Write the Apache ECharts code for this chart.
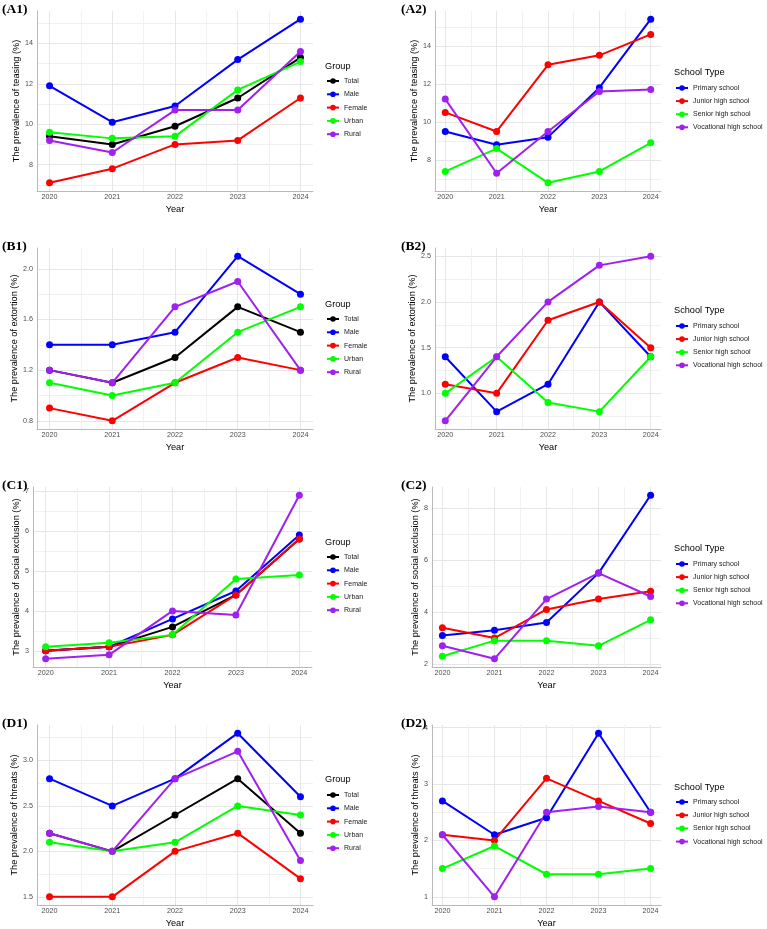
<!DOCTYPE html>
<html>
<head>
<meta charset="utf-8">
<script src="https://cdn.jsdelivr.net/npm/echarts@6/dist/echarts.min.js"></script>
<style>
html,body{margin:0;padding:0;background:#fff;}
#main{width:767px;height:929px;}
</style>
</head>
<body>
<div id="main"></div>
<script>
// x轴年份
var years = [2020, 2021, 2022, 2023, 2024];
var groupNames = ['Total', 'Male', 'Female', 'Urban', 'Rural'];
var schoolNames = ['Primary school', 'Junior high school', 'Senior high school', 'Vocational high school'];

// teasing
var teasingGroup = [
    [9.4, 9.0, 9.9, 11.3, 13.3],
    [11.9, 10.1, 10.9, 13.2, 15.2],
    [7.1, 7.8, 9.0, 9.2, 11.3],
    [9.6, 9.3, 9.4, 11.7, 13.1],
    [9.2, 8.6, 10.7, 10.7, 13.6]
];
var teasingSchool = [
    [9.5, 8.8, 9.2, 11.8, 15.4],
    [10.5, 9.5, 13.0, 13.5, 14.6],
    [7.4, 8.6, 6.8, 7.4, 8.9],
    [11.2, 7.3, 9.5, 11.6, 11.7]
];
// extortion
var extortionGroup = [
    [1.2, 1.1, 1.3, 1.7, 1.5],
    [1.4, 1.4, 1.5, 2.1, 1.8],
    [0.9, 0.8, 1.1, 1.3, 1.2],
    [1.1, 1.0, 1.1, 1.5, 1.7],
    [1.2, 1.1, 1.7, 1.9, 1.2]
];
var extortionSchool = [
    [1.4, 0.8, 1.1, 2.0, 1.4],
    [1.1, 1.0, 1.8, 2.0, 1.5],
    [1.0, 1.4, 0.9, 0.8, 1.4],
    [0.7, 1.4, 2.0, 2.4, 2.5]
];
// social exclusion
var exclusionGroup = [
    [3.0, 3.1, 3.6, 4.4, 5.8],
    [3.0, 3.1, 3.8, 4.5, 5.9],
    [3.0, 3.1, 3.4, 4.4, 5.8],
    [3.1, 3.2, 3.4, 4.8, 4.9],
    [2.8, 2.9, 4.0, 3.9, 6.9]
];
var exclusionSchool = [
    [3.1, 3.3, 3.6, 5.5, 8.5],
    [3.4, 3.0, 4.1, 4.5, 4.8],
    [2.3, 2.9, 2.9, 2.7, 3.7],
    [2.7, 2.2, 4.5, 5.5, 4.6]
];
// threats
var threatsGroup = [
    [2.2, 2.0, 2.4, 2.8, 2.2],
    [2.8, 2.5, 2.8, 3.3, 2.6],
    [1.5, 1.5, 2.0, 2.2, 1.7],
    [2.1, 2.0, 2.1, 2.5, 2.4],
    [2.2, 2.0, 2.8, 3.1, 1.9]
];
var threatsSchool = [
    [2.7, 2.1, 2.4, 3.9, 2.5],
    [2.1, 2.0, 3.1, 2.7, 2.3],
    [1.5, 1.9, 1.4, 1.4, 1.5],
    [2.1, 1.0, 2.5, 2.6, 2.5]
];

// y轴刻度
var teasingTicks = ['8', '10', '12', '14'];
var teasingMinor = [7, 9, 11, 13, 15];
var extortionGroupTicks = ['0.8', '1.2', '1.6', '2.0'];
var extortionGroupMinor = [1.0, 1.4, 1.8];
var extortionSchoolTicks = ['1.0', '1.5', '2.0', '2.5'];
var extortionSchoolMinor = [0.75, 1.25, 1.75, 2.25];
var exclusionGroupTicks = ['3', '4', '5', '6', '7'];
var exclusionGroupMinor = [3.5, 4.5, 5.5, 6.5];
var exclusionSchoolTicks = ['2', '4', '6', '8'];
var exclusionSchoolMinor = [3, 5, 7];
var threatsGroupTicks = ['1.5', '2.0', '2.5', '3.0'];
var threatsGroupMinor = [1.75, 2.25, 2.75, 3.25];
var threatsSchoolTicks = ['1', '2', '3', '4'];
var threatsSchoolMinor = [1.5, 2.5, 3.5];
var yearMinor = [2020.5, 2021.5, 2022.5, 2023.5];

var groupColors = ['#000000', '#0000ff', '#ff0000', '#00ff00', '#a020f0'];
var schoolColors = ['#0000ff', '#ff0000', '#00ff00', '#a020f0'];

var FONT = 'Liberation Sans, Arial, sans-serif';

//面板配置
var panels = [
    {tag: '(A1)', data: teasingGroup, names: groupNames, colors: groupColors, legendTitle: 'Group',
     ytitle: 'The prevalence of teasing (%)', ticks: teasingTicks, minor: teasingMinor,
     left: 37, top: 11, width: 276, height: 180, nameGap: 10, lx: 325, ltY: 66, liY: 81, gap: 13.3},
    {tag: '(A2)', data: teasingSchool, names: schoolNames, colors: schoolColors, legendTitle: 'School Type',
     ytitle: 'The prevalence of teasing (%)', ticks: teasingTicks, minor: teasingMinor,
     left: 435, top: 11, width: 226, height: 180, nameGap: 11, lx: 674, ltY: 72, liY: 88, gap: 13.1},
    {tag: '(B1)', data: extortionGroup, names: groupNames, colors: groupColors, legendTitle: 'Group',
     ytitle: 'The prevalence of extortion (%)', ticks: extortionGroupTicks, minor: extortionGroupMinor,
     left: 37, top: 248, width: 276, height: 181, nameGap: 11, lx: 325, ltY: 304, liY: 319, gap: 13.3},
    {tag: '(B2)', data: extortionSchool, names: schoolNames, colors: schoolColors, legendTitle: 'School Type',
     ytitle: 'The prevalence of extortion (%)', ticks: extortionSchoolTicks, minor: extortionSchoolMinor,
     left: 435, top: 248, width: 226, height: 181, nameGap: 11, lx: 674, ltY: 310, liY: 326, gap: 13.1},
    {tag: '(C1)', data: exclusionGroup, names: groupNames, colors: groupColors, legendTitle: 'Group',
     ytitle: 'The prevalence of social exclusion (%)', ticks: exclusionGroupTicks, minor: exclusionGroupMinor,
     left: 33, top: 487, width: 279, height: 180, nameGap: 8, lx: 325, ltY: 542, liY: 557, gap: 13.3},
    {tag: '(C2)', data: exclusionSchool, names: schoolNames, colors: schoolColors, legendTitle: 'School Type',
     ytitle: 'The prevalence of social exclusion (%)', ticks: exclusionSchoolTicks, minor: exclusionSchoolMinor,
     left: 432, top: 487, width: 229, height: 180, nameGap: 7, lx: 674, ltY: 548, liY: 564, gap: 13.1},
    {tag: '(D1)', data: threatsGroup, names: groupNames, colors: groupColors, legendTitle: 'Group',
     ytitle: 'The prevalence of threats (%)', ticks: threatsGroupTicks, minor: threatsGroupMinor,
     left: 37, top: 725, width: 276, height: 180, nameGap: 11, lx: 325, ltY: 779, liY: 795, gap: 13.3},
    {tag: '(D2)', data: threatsSchool, names: schoolNames, colors: schoolColors, legendTitle: 'School Type',
     ytitle: 'The prevalence of threats (%)', ticks: threatsSchoolTicks, minor: threatsSchoolMinor,
     left: 432, top: 725, width: 229, height: 180, nameGap: 8, lx: 674, ltY: 787, liY: 802, gap: 13.2}
];

function labelFormatter(ticks) {
    return function (v) {
        for (var i = 0; i < ticks.length; i++) {
            if (Math.abs(parseFloat(ticks[i]) - v) < 1e-6) return ticks[i];
        }
        return '';
    };
}

var myChart = echarts.init(document.getElementById('main'), null, {renderer: 'canvas'});

var option = {
    animation: false,
    backgroundColor: '#ffffff',
    title: [], grid: [], xAxis: [], yAxis: [], legend: [], series: []
};

var majorLine = {show: true, lineStyle: {color: '#e6e6e6', width: 1}};
var minorLine = {show: true, lineStyle: {color: '#f1f1f1', width: 1}};
var axisLineStyle = {show: true, lineStyle: {color: '#b9b9b9', width: 1}};

panels.forEach(function (p, i) {
    // y范围: ggplot 默认扩展 5%
    var all = [];
    p.data.forEach(function (arr) { all = all.concat(arr); });
    var lo = Math.min.apply(null, all), hi = Math.max.apply(null, all);
    var pad = (hi - lo) * 0.05;
    var tickVals = p.ticks.map(parseFloat);

    option.grid.push({left: p.left, top: p.top, width: p.width, height: p.height,
        containLabel: false, outerBoundsMode: 'none'});

    option.xAxis.push({
        gridIndex: i, type: 'value', position: 'bottom', min: 2019.8, max: 2024.2,
        name: 'Year', nameLocation: 'middle', nameGap: 14,
        nameTextStyle: {fontFamily: FONT, fontSize: 9.2, color: '#000'},
        axisLine: axisLineStyle,
        axisTick: {show: false, customValues: years},
        axisLabel: {customValues: years, margin: 3, fontFamily: FONT, fontSize: 7.2, color: '#4d4d4d',
            formatter: function (v) { return String(Math.round(v)); }},
        splitLine: majorLine
    });
    option.xAxis.push({
        gridIndex: i, type: 'value', position: 'top', min: 2019.8, max: 2024.2,
        axisLine: {show: false}, axisTick: {show: false, customValues: yearMinor},
        axisLabel: {show: false}, splitLine: minorLine
    });
    option.yAxis.push({
        gridIndex: i, type: 'value', position: 'left', min: lo - pad, max: hi + pad,
        name: p.ytitle, nameLocation: 'middle', nameRotate: 90, nameGap: p.nameGap,
        nameTextStyle: {fontFamily: FONT, fontSize: 9.2, color: '#000'},
        axisLine: axisLineStyle,
        axisTick: {show: false, customValues: tickVals},
        axisLabel: {customValues: tickVals, margin: 4, fontFamily: FONT, fontSize: 7.2, color: '#4d4d4d',
            formatter: labelFormatter(p.ticks)},
        splitLine: majorLine
    });
    option.yAxis.push({
        gridIndex: i, type: 'value', position: 'right', min: lo - pad, max: hi + pad,
        axisLine: {show: false}, axisTick: {show: false, customValues: p.minor},
        axisLabel: {show: false}, splitLine: minorLine
    });

    // 面板标签
    option.title.push({text: p.tag, left: p.left < 100 ? 2 : 401, top: p.top - 9, padding: 0,
        textStyle: {fontFamily: 'Liberation Serif, Times New Roman, serif', fontWeight: 'bold',
            fontSize: 13.5, lineHeight: 15, color: '#000'}});
    // 图例标题
    option.title.push({text: p.legendTitle, left: p.lx, top: p.ltY - 5.5, padding: 0,
        textStyle: {fontFamily: FONT, fontWeight: 'normal', fontSize: 9.2, lineHeight: 11, color: '#000'}});

    option.legend.push({
        orient: 'vertical', left: p.lx + 1, top: p.liY - 4.5, padding: 0,
        itemWidth: 12, itemHeight: 7, itemGap: p.gap - 9, selectedMode: false,
        textStyle: {fontFamily: FONT, fontSize: 7, lineHeight: 9, color: '#1a1a1a'},
        data: p.names
    });

    p.names.forEach(function (nm, k) {
        option.series.push({
            type: 'line', name: nm, xAxisIndex: 2 * i, yAxisIndex: 2 * i,
            data: years.map(function (y, j) { return [y, p.data[k][j]]; }),
            symbol: 'circle', symbolSize: 7,
            lineStyle: {width: 2, color: p.colors[k]},
            itemStyle: {color: p.colors[k]},
            emphasis: {disabled: true},
            z: 3
        });
    });
});

myChart.setOption(option);
</script>
</body>
</html>
